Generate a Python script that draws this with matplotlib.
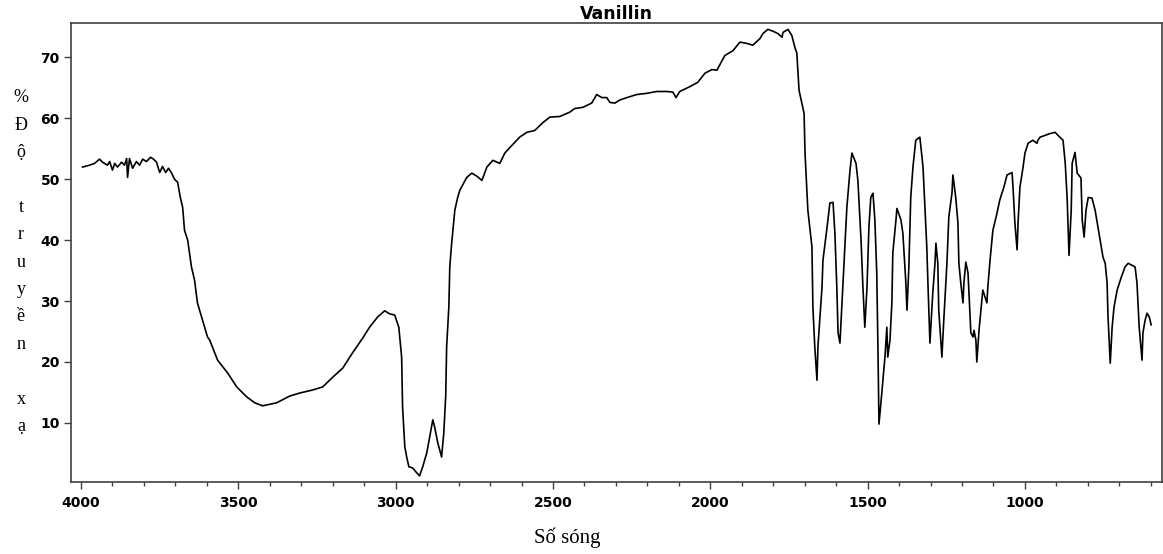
import numpy as np
import matplotlib
matplotlib.use("Agg")
import matplotlib.pyplot as plt
from matplotlib.ticker import MultipleLocator

# IR spectrum of vanillin
wavenumber = [
    3995, 3973, 3957, 3941, 3932, 3916, 3909, 3900, 3893, 3884, 3871, 3862,
    3855, 3852, 3846, 3836, 3824, 3814, 3804, 3792, 3779, 3770, 3760, 3750,
    3741, 3731, 3722, 3712, 3703, 3693, 3684, 3677, 3671, 3661, 3649, 3639,
    3630, 3614, 3598, 3591, 3566, 3534, 3505, 3474, 3448, 3423, 3378, 3337,
    3305, 3264, 3232, 3200, 3168, 3137, 3105, 3083, 3057, 3035, 3019, 3003,
    2990, 2981, 2978, 2971, 2965, 2958, 2946, 2933, 2924, 2914, 2901, 2892,
    2882, 2876, 2866, 2854, 2847, 2841, 2838, 2831, 2828, 2822, 2812, 2803,
    2796, 2774, 2758, 2742, 2726, 2710, 2691, 2669, 2653, 2637, 2606, 2583,
    2558, 2532, 2510, 2478, 2447, 2431, 2405, 2377, 2361, 2345, 2329, 2319,
    2303, 2288, 2265, 2234, 2202, 2170, 2138, 2119, 2109, 2097, 2065, 2040,
    2017, 1995, 1979, 1954, 1928, 1906, 1884, 1865, 1842, 1833, 1817, 1801,
    1785, 1772, 1769, 1753, 1741, 1731, 1725, 1718, 1702, 1699, 1690, 1677,
    1674, 1668, 1661, 1658, 1645, 1642, 1629, 1620, 1610, 1604, 1598, 1594,
    1588, 1579, 1566, 1556, 1550, 1537, 1531, 1521, 1515, 1509, 1502, 1496,
    1490, 1483, 1477, 1471, 1467, 1464, 1455, 1445, 1439, 1436, 1429, 1423,
    1420, 1410, 1407, 1394, 1388, 1379, 1375, 1369, 1363, 1356, 1347, 1334,
    1324, 1318, 1312, 1308, 1302, 1293, 1286, 1283, 1277, 1274, 1264, 1258,
    1248, 1242, 1232, 1229, 1220, 1213, 1210, 1204, 1197, 1194, 1188, 1181,
    1178, 1172, 1165, 1162, 1156, 1153, 1146, 1137, 1134, 1127, 1121, 1118,
    1111, 1102, 1089, 1080, 1067, 1057, 1041, 1038, 1032, 1025, 1022, 1016,
    1006, 1000, 990, 975, 962, 959, 952, 936, 920, 904, 895, 879,
    872, 866, 860, 853, 850, 841, 834, 822, 818, 812, 806, 799,
    787, 777, 768, 761, 752, 745, 739, 736, 729, 723, 717, 707,
    694, 682, 672, 650, 644, 637, 628, 625, 618, 612, 605, 599,
]
transmittance = [
    52.0, 52.3, 52.6, 53.3, 52.8, 52.3, 52.9, 51.5, 52.6, 52.0, 52.8, 52.3,
    53.4, 50.3, 53.4, 51.8, 52.9, 52.3, 53.3, 52.9, 53.6, 53.3, 52.8, 51.1,
    52.1, 51.1, 51.8, 51.0, 50.0, 49.5, 46.9, 45.4, 41.6, 40.0, 35.6, 33.4,
    29.7, 26.9, 24.1, 23.6, 20.3, 18.2, 15.9, 14.3, 13.3, 12.8, 13.3, 14.4,
    14.9, 15.4, 15.9, 17.5, 19.0, 21.5, 23.9, 25.7, 27.4, 28.4, 27.9, 27.7,
    25.7, 20.8, 12.6, 6.1, 4.4, 2.8, 2.6, 1.8, 1.3, 2.8, 5.1, 7.7,
    10.5, 9.3, 6.7, 4.4, 8.4, 14.3, 22.5, 29.0, 35.6, 39.5, 44.9, 47.0,
    48.2, 50.3, 51.0, 50.5, 49.8, 52.0, 53.1, 52.6, 54.3, 55.2, 56.9, 57.7,
    58.0, 59.3, 60.2, 60.3, 61.0, 61.6, 61.8, 62.5, 63.9, 63.4, 63.4, 62.6,
    62.5, 63.0, 63.4, 63.9, 64.1, 64.4, 64.4, 64.3, 63.4, 64.4, 65.2, 65.9,
    67.4, 68.0, 67.9, 70.3, 71.1, 72.5, 72.3, 72.0, 73.1, 73.9, 74.6, 74.3,
    73.9, 73.3, 74.1, 74.6, 73.6, 71.6, 70.7, 64.6, 60.8, 54.3, 44.9, 38.9,
    29.0, 22.5, 17.0, 22.5, 32.3, 36.7, 42.1, 46.1, 46.2, 41.1, 32.3, 24.8,
    23.1, 32.3, 45.4, 51.5, 54.3, 52.6, 49.8, 40.0, 32.3, 25.7, 32.3, 42.1,
    47.0, 47.7, 43.3, 34.6, 21.5, 9.8, 14.9, 20.8, 25.7, 20.8, 23.6, 29.7,
    37.9, 43.3, 45.2, 43.3, 41.1, 33.4, 28.5, 35.6, 47.0, 52.0, 56.4, 56.9,
    52.0, 45.4, 38.9, 32.3, 23.1, 31.3, 36.2, 39.5, 36.2, 28.5, 20.8, 26.9,
    36.2, 43.8, 47.7, 50.7, 47.0, 42.8, 36.2, 33.0, 29.7, 33.0, 36.4, 34.6,
    31.3, 24.8, 24.1, 25.2, 23.6, 20.0, 25.2, 30.2, 31.8, 30.7, 29.7, 32.3,
    36.7, 41.6, 44.4, 46.6, 48.7, 50.7, 51.1, 48.7, 42.8, 38.4, 42.8, 48.7,
    52.0, 54.3, 55.9, 56.4, 55.9, 56.4, 56.9, 57.2, 57.5, 57.7, 57.2, 56.4,
    52.6, 47.0, 37.5, 44.9, 52.6, 54.4, 51.0, 50.2, 43.3, 40.5, 44.9, 47.0,
    46.9, 44.9, 42.1, 40.0, 37.2, 36.2, 33.0, 27.4, 19.8, 25.7, 29.0, 31.8,
    33.9, 35.6, 36.2, 35.6, 33.0, 25.7, 20.3, 24.8, 26.9, 28.0, 27.4, 26.1,
]

x_ticks = [4000, 3500, 3000, 2500, 2000, 1500, 1000]
y_ticks = [10, 20, 30, 40, 50, 60, 70]

title = "Vanillin"
x_label = "Số sóng"
y_label = "%\nĐ\nộ\n\nt\nr\nu\ny\nề\nn\n\nx\nạ"

fig = plt.figure(figsize=(11.63, 5.54), dpi=100)
ax = fig.add_axes([0.061, 0.130, 0.938, 0.828])

ax.plot(wavenumber, transmittance, color="black", linewidth=1.2)

ax.set_xlim(4032, 565)
ax.set_ylim(0.3, 75.6)
ax.set_xticks(x_ticks)
ax.set_yticks(y_ticks)
ax.xaxis.set_minor_locator(MultipleLocator(100))

for spine in ax.spines.values():
    spine.set_color("#404040")
    spine.set_linewidth(1.2)

ax.tick_params(axis="both", which="major", direction="out", length=5,
               width=1, color="#404040", pad=3)
ax.tick_params(axis="x", which="minor", direction="out", length=3,
               width=1, color="#404040")
for lab in ax.get_xticklabels() + ax.get_yticklabels():
    lab.set_fontfamily("DejaVu Sans")
    lab.set_fontweight("bold")
    lab.set_fontsize(10)
ax.tick_params(axis="x", pad=5)

ax.set_title(title, fontfamily="DejaVu Sans", fontweight="bold",
             fontsize=12.5, pad=1)

fig.text(0.4875, 0.029, x_label, ha="center", va="center",
         fontfamily="Liberation Serif", fontsize=15)
fig.text(0.018, 0.527, y_label, ha="center", va="center",
         fontfamily="Liberation Serif", fontsize=13, linespacing=1.8)

fig.savefig("out.png", dpi=100)
